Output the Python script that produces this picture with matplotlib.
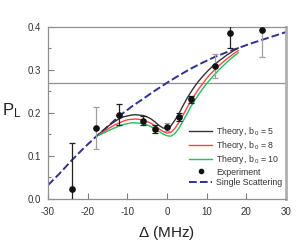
#!/usr/bin/env python3

import matplotlib
matplotlib.use('Agg')
import matplotlib.pyplot as plt

plt.rcParams['font.family'] = ['Liberation Sans', 'DejaVu Sans']
plt.rcParams['mathtext.default'] = 'regular'

# theory curves
theory_x = list(range(-17, 19))
theory_b5 = [0.152, 0.160, 0.168, 0.175, 0.181, 0.187, 0.191, 0.193, 0.195, 0.196,
             0.195, 0.194, 0.191, 0.186, 0.179, 0.171, 0.165, 0.164, 0.170, 0.183,
             0.198, 0.216, 0.233, 0.248, 0.262, 0.274, 0.285, 0.295, 0.304, 0.313,
             0.320, 0.327, 0.334, 0.340, 0.346, 0.351]
theory_b8 = [0.150, 0.156, 0.162, 0.168, 0.173, 0.177, 0.181, 0.184, 0.185, 0.186,
             0.185, 0.183, 0.180, 0.176, 0.170, 0.163, 0.157, 0.153, 0.155, 0.164,
             0.178, 0.194, 0.211, 0.227, 0.242, 0.256, 0.268, 0.280, 0.291, 0.300,
             0.309, 0.317, 0.325, 0.332, 0.339, 0.345]
theory_b10 = [0.149, 0.153, 0.158, 0.162, 0.166, 0.170, 0.173, 0.175, 0.177, 0.177,
              0.176, 0.175, 0.172, 0.168, 0.163, 0.157, 0.151, 0.147, 0.146, 0.152,
              0.164, 0.180, 0.197, 0.214, 0.229, 0.243, 0.256, 0.268, 0.279, 0.289,
              0.299, 0.308, 0.317, 0.325, 0.333, 0.340]

# single scattering
single_x = [-30, -27, -24, -21, -18, -15, -12, -9, -6, -3, 0, 3, 6, 9, 12, 15, 18, 21, 24, 27, 30]
single_y = [0.032, 0.060, 0.090, 0.118, 0.144, 0.168, 0.193, 0.214, 0.233, 0.252, 0.270,
            0.287, 0.303, 0.317, 0.330, 0.341, 0.351, 0.361, 0.370, 0.379, 0.388]

# experiment
exp_x = [-24, -18, -12, -6, -3, 0, 3, 6, 12, 16, 24]
exp_y = [0.023, 0.164, 0.196, 0.182, 0.163, 0.167, 0.191, 0.232, 0.310, 0.385, 0.393]
exp_err = [0.106, 0.049, 0.024, 0.010, 0.010, 0.010, 0.010, 0.008, 0.028, 0.035, 0.064]
err_color = ['#222222', '#a0a0a0', '#222222', '#222222', '#222222', '#a0a0a0',
             '#222222', '#222222', '#a0a0a0', '#222222', '#a0a0a0']

ref_level = 0.27

fig = plt.figure(figsize=(3.0, 2.45), dpi=100)
ax = fig.add_axes([0.16, 0.188, 0.793, 0.702])

ax.axhline(ref_level, color='#909090', lw=0.9, zorder=1)

ax.plot(theory_x, theory_b5, color='#333333', lw=1.0, label=r'Theory, b$_{\,0}$ = 5', zorder=3)
ax.plot(theory_x, theory_b8, color='#ff4545', lw=1.0, label=r'Theory, b$_{\,0}$ = 8', zorder=3)
ax.plot(theory_x, theory_b10, color='#22c060', lw=1.0, label=r'Theory, b$_{\,0}$ = 10', zorder=3)

for x, y, e, c in zip(exp_x, exp_y, exp_err, err_color):
    ax.errorbar(x, y, yerr=e, fmt='none', ecolor=c, elinewidth=0.9, capsize=2.5,
                capthick=0.9, zorder=4)
ax.plot(exp_x, exp_y, 'o', color='#111111', ms=3.8, ls='none', label='Experiment', zorder=5)

ax.plot(single_x, single_y, color='#2e3192', lw=1.4, ls=(0, (4, 1.6)),
        label='Single Scattering', zorder=2)

ax.set_xlim(-30, 30)
ax.set_ylim(0.0, 0.4)
ax.set_xticks([-30, -20, -10, 0, 10, 20, 30])
ax.set_xticklabels(['-30', '-20', '-10', '0', '10', '20', '30'])
ax.set_yticks([0.0, 0.1, 0.2, 0.3, 0.4])
ax.set_yticklabels(['0.0', '0.1', '0.2', '0.3', '0.4'])
ax.set_yticks([0.05, 0.15, 0.25, 0.35], minor=True)
ax.tick_params(axis='both', which='major', direction='in', length=4, width=0.8,
               color='#808080', labelsize=7, labelcolor='#333333')
ax.tick_params(axis='x', which='major', pad=6)
ax.tick_params(axis='y', which='major', pad=5)
ax.tick_params(axis='y', which='minor', direction='in', length=2.5, width=0.8, color='#808080')

for side in ['left', 'bottom', 'top']:
    ax.spines[side].set_color('#909090')
    ax.spines[side].set_linewidth(0.9)
ax.spines['right'].set_color('#b0b0b0')
ax.spines['right'].set_linewidth(2.0)

fig.text(0.008, 0.55, r'P$_L$', fontsize=12, color='#222222', va='center', ha='left')
ax.set_xlabel(r'$\Delta$ (MHz)', fontsize=11, color='#222222', labelpad=5)

leg = ax.legend(loc='lower right', frameon=False, fontsize=6.3, handlelength=2.6,
                handletextpad=0.5, labelspacing=0.15, borderaxespad=0.0,
                markerscale=0.8, bbox_to_anchor=(1.0, 0.05))
for t in leg.get_texts():
    t.set_color('#333333')

fig.savefig('out.png', dpi=100)
